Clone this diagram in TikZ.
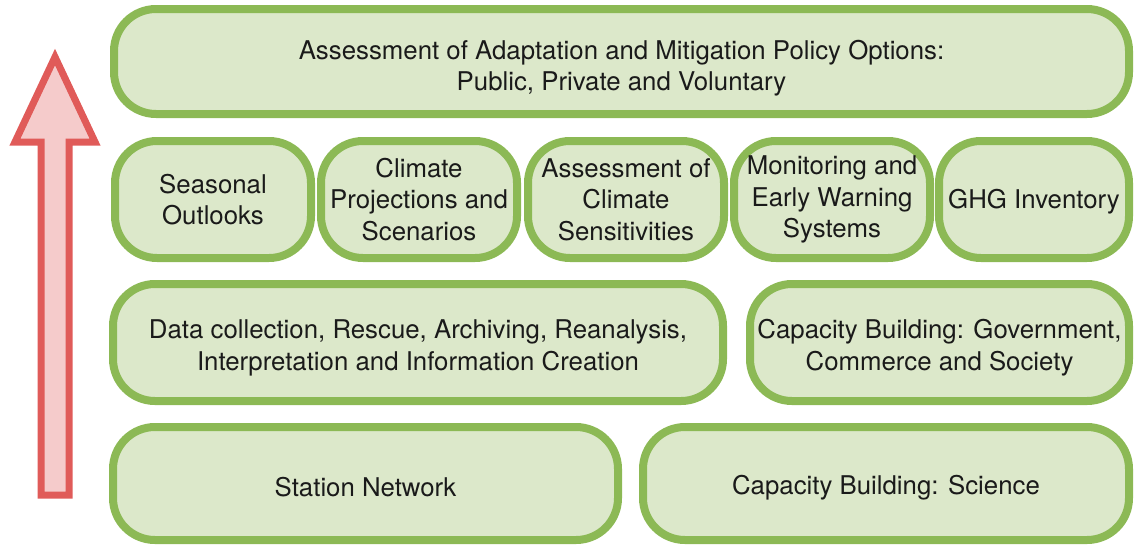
\documentclass[tikz,border=0pt]{standalone}
\usepackage{fontspec}
\setmainfont{TeX Gyre Heros}

\definecolor{leafline}{HTML}{8CB955}
\definecolor{leaffill}{HTML}{DCE8CA}
\definecolor{arrowline}{HTML}{E05B59}
\definecolor{arrowfill}{HTML}{F5CBCB}
\definecolor{inktext}{HTML}{1A1A1A}

\begin{document}
\begin{tikzpicture}[x=1pt, y=-1pt, every node/.style={text=inktext, font=\fontsize{25.8}{31.5}\selectfont}]
    \tikzstyle{layer}=[rectangle, rounded corners=42pt, draw=leafline, line width=8pt, fill=leaffill, align=center, inner sep=2pt]  % Green rounded blocks
    \tikzstyle{tool layer}=[layer, minimum height=117pt];
    \tikzstyle{info layer}=[tool layer, text height=61pt];
    \tikzstyle{base layer}=[layer, minimum height=113pt, text height=27pt];

    \useasboundingbox (0,0) rectangle (1134,544);

    % Upward arrow
    \draw[line width=7pt, draw=arrowline, fill=arrowfill, line join=miter]
        (55,57) -- (95,142) -- (69,142) -- (69,495) -- (41,495) -- (41,142) -- (15,142) -- cycle;

    % Policy layer
    \node[layer, minimum width=1015pt, minimum height=105pt, text height=64pt] (Policy) at (621.5,61.5) {
        Assessment of Adaptation and Mitigation Policy Options:\\
        Public, Private and Voluntary
    };

    % Tools layer
    \foreach \x/\w/\name/\txt in {213/196/Seasonal/{Seasonal\\Outlooks},
                                 419/196/Projections/{Climate\\Projections and\\Scenarios},
                                 626/196/Sensitivity/{Assessment of\\Climate\\Sensitivities},
                                 832/196/Warning/{Monitoring and\\Early Warning\\Systems}}
        \node[tool layer, minimum width=\w pt] (T-\name) at (\x,199.5) {\txt};
    \node[tool layer, minimum width=190pt, text height=24pt] (T-Inventory) at (1034,199.5) {GHG Inventory};

    % Information layer
    \node[info layer, minimum width=610pt] (Data) at (418,342.5) {
        Data collection, Rescue, Archiving, Reanalysis,\\
        Interpretation and Information Creation
    };
    \node[info layer, minimum width=379pt] (CapGov) at (939.5,342.5) {
        Capacity Building: Government,\\
        Commerce and Society
    };

    % Foundation layer
    \node[base layer, minimum width=505pt] (Station) at (365.5,483.5) {Station Network};
    \node[base layer, minimum width=486pt] (CapSci) at (886,483.5) {Capacity Building: Science};
\end{tikzpicture}
\end{document}
